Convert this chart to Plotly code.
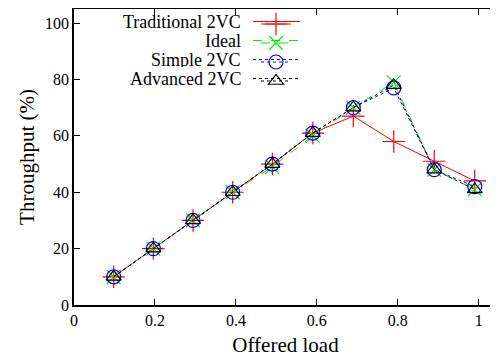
import plotly.graph_objects as go

offered_load = [0.098, 0.196, 0.294, 0.392, 0.49, 0.59, 0.69, 0.79, 0.89, 0.99]
traditional = [10, 20, 30, 40, 50, 61, 67, 58, 51, 44]
ideal = [10, 20, 30, 40, 49, 60, 70, 79, 48, 41]
simple = [10, 20, 30, 40, 50, 61, 70, 77, 48, 42]
advanced = [10, 20, 30, 40, 50, 61, 70, 78, 48, 41]
series_names = ["Traditional 2VC", "Ideal", "Simple 2VC", "Advanced 2VC"]

FONT = "Liberation Serif"

styles = [
    dict(color="#ff0000", dash="solid", symbol="cross-thin-open", size=16),
    dict(color="#00ee00", dash="dash", symbol="x-thin-open", size=14),
    dict(color="#0000ff", dash="dot", symbol="circle-open", size=14),
    dict(color="#000000", dash="dot", symbol="triangle-up-open", size=13),
]

# plot area in figure pixels (page body adds an 8px offset)
L, R, T, B = 66, 489, 1, 297
W, H = 498, 360
px = lambda v: (v - L) / (R - L)
py = lambda v: 1 - (v - T) / (B - T)

fig = go.Figure()
for name, ys, st in zip(series_names, [traditional, ideal, simple, advanced], styles):
    fig.add_trace(go.Scatter(
        x=offered_load, y=ys, mode="lines+markers", name=" ",
        line=dict(color=st["color"], width=1, dash=st["dash"]),
        marker=dict(symbol=st["symbol"], size=st["size"], color=st["color"],
                    line=dict(color=st["color"], width=1.2)),
    ))

ROW0, ROWH, C = 13.5, 19, 12
for i, (name, st) in enumerate(zip(series_names, styles)):
    yy = ROW0 + i * ROWH
    fig.add_annotation(
        text=name, xref="paper", yref="paper", x=px(235), y=py(yy), height=15,
        xanchor="right", yanchor="middle", showarrow=False,
        font=dict(family=FONT, size=18, color="black"),
    )
    fig.add_shape(type="line", xref="paper", yref="paper",
                  x0=px(245), x1=px(292), y0=py(yy), y1=py(yy),
                  line=dict(color=st["color"], width=1, dash=st["dash"]))

fig.update_layout(
    width=W, height=H,
    margin=dict(l=L, r=W - R, t=T, b=H - B, autoexpand=False),
    paper_bgcolor="white", plot_bgcolor="white",
    font=dict(family=FONT, size=16, color="black"),
    showlegend=True,
    legend=dict(x=px(248), y=py(ROW0 - C), xanchor="left", yanchor="top",
                bgcolor="rgba(0,0,0,0)", font=dict(family=FONT, size=12),
                tracegroupgap=0, itemwidth=30),
    xaxis=dict(range=[0, 1.045], tickvals=[0, 0.2, 0.4, 0.6, 0.8, 1],
               ticktext=["0", "0.2", "0.4", "0.6", "0.8", "1"],
               ticks="inside", ticklen=6, tickcolor="black", showline=True, linecolor="black",
               linewidth=1.5, mirror="ticks", showgrid=False, zeroline=False,
               title=dict(text="Offered load", font=dict(family=FONT, size=21), standoff=9),
               tickfont=dict(family=FONT, size=16)),
    yaxis=dict(range=[0, 105], tickvals=[0, 20, 40, 60, 80, 100],
               ticks="inside", ticklen=6, tickcolor="black", showline=True, linecolor="black",
               linewidth=1.5, mirror="ticks", showgrid=False, zeroline=False,
               title=dict(text="Throughput (%)", font=dict(family=FONT, size=21), standoff=5),
               tickfont=dict(family=FONT, size=16)),
)

fig.write_html("out.html")
